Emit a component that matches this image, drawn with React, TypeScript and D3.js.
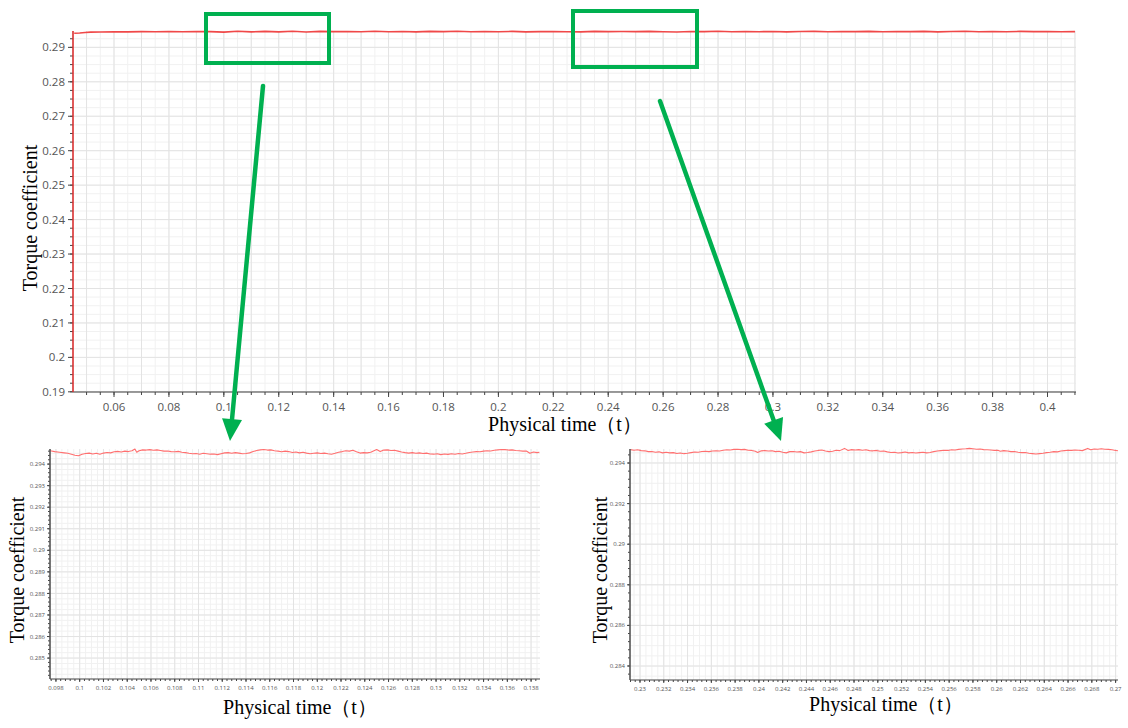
import React from "react";
import * as d3 from "d3";

type Pt = [number, number];

// ---------- DATA ----------
const mainSeries: Pt[] = [
  [0.0455, 0.29408], [0.0475, 0.29418], [0.0495, 0.29432], [0.0515, 0.29441], [0.055, 0.29446],
  [0.06, 0.29452], [0.065, 0.29449], [0.07, 0.29456], [0.075, 0.29453], [0.08, 0.29459],
  [0.085, 0.29455], [0.09, 0.29462], [0.095, 0.29457], [0.1, 0.29443], [0.105, 0.29466],
  [0.11, 0.29449], [0.115, 0.29464], [0.12, 0.29451], [0.125, 0.29467], [0.13, 0.29447],
  [0.135, 0.29464], [0.14, 0.29456], [0.145, 0.29461], [0.15, 0.29452], [0.155, 0.29468],
  [0.16, 0.29455], [0.165, 0.2946], [0.17, 0.2945], [0.175, 0.29463], [0.18, 0.29457],
  [0.185, 0.29466], [0.19, 0.29452], [0.195, 0.29459], [0.2, 0.29454], [0.205, 0.29463],
  [0.21, 0.29449], [0.215, 0.29458], [0.22, 0.29461], [0.225, 0.29455], [0.23, 0.29449],
  [0.235, 0.29464], [0.24, 0.29456], [0.245, 0.2946], [0.25, 0.29458], [0.255, 0.29465],
  [0.26, 0.29455], [0.265, 0.29447], [0.27, 0.29462], [0.275, 0.29458], [0.28, 0.29466],
  [0.285, 0.29453], [0.29, 0.2946], [0.295, 0.29455], [0.3, 0.29462], [0.305, 0.29451],
  [0.31, 0.29459], [0.315, 0.29464], [0.32, 0.29454], [0.325, 0.29461], [0.33, 0.29457],
  [0.335, 0.29465], [0.34, 0.29452], [0.345, 0.2946], [0.35, 0.29456], [0.355, 0.29463],
  [0.36, 0.2945], [0.365, 0.29462], [0.37, 0.29467], [0.375, 0.29455], [0.38, 0.29459],
  [0.385, 0.29453], [0.39, 0.29464], [0.395, 0.29457], [0.4, 0.29461], [0.405, 0.29454],
  [0.41, 0.29458],
];

const leftZoomSeries: Pt[] = [
  [0.0975, 0.29462], [0.0979, 0.29458], [0.0983, 0.29455], [0.0987, 0.29452], [0.099, 0.2945],
  [0.0993, 0.29446], [0.0996, 0.29441], [0.0999, 0.29439], [0.1002, 0.29446], [0.1005, 0.29449],
  [0.1008, 0.29451], [0.1011, 0.29447], [0.1014, 0.2945], [0.1017, 0.29446], [0.102, 0.29451],
  [0.1023, 0.29454], [0.1026, 0.29452], [0.1029, 0.29457], [0.1032, 0.29459], [0.1035, 0.29456],
  [0.1038, 0.2946], [0.1041, 0.29458], [0.1044, 0.29462], [0.10465, 0.2947], [0.1048, 0.29455],
  [0.105, 0.29462], [0.1053, 0.29466], [0.1056, 0.29465], [0.1059, 0.29467], [0.1062, 0.29464],
  [0.1065, 0.29466], [0.1068, 0.29463], [0.1071, 0.2946], [0.1074, 0.29461], [0.1077, 0.29458],
  [0.108, 0.29457], [0.1083, 0.29459], [0.1086, 0.29455], [0.1089, 0.29453], [0.1092, 0.2945],
  [0.1095, 0.29448], [0.1098, 0.29449], [0.1101, 0.29446], [0.1104, 0.2945], [0.1107, 0.29448],
  [0.111, 0.29446], [0.1113, 0.29447], [0.1116, 0.29444], [0.1119, 0.29448], [0.1122, 0.29452],
  [0.1125, 0.29453], [0.1128, 0.2945], [0.1131, 0.29453], [0.1134, 0.29451], [0.1137, 0.29448],
  [0.114, 0.29449], [0.1143, 0.29452], [0.1146, 0.29458], [0.1149, 0.29463], [0.1152, 0.29466],
  [0.1155, 0.29468], [0.1158, 0.29465], [0.1161, 0.29466], [0.1164, 0.29462], [0.1167, 0.2946],
  [0.117, 0.29457], [0.1173, 0.2946], [0.1176, 0.29458], [0.1179, 0.29454], [0.1182, 0.29456],
  [0.1185, 0.29452], [0.1188, 0.29455], [0.1191, 0.29451], [0.1194, 0.29448], [0.1197, 0.2945],
  [0.12, 0.29452], [0.1203, 0.29449], [0.1206, 0.29451], [0.1209, 0.29448], [0.1212, 0.29446],
  [0.1215, 0.2945], [0.1218, 0.29455], [0.1221, 0.29458], [0.1224, 0.29462], [0.1227, 0.2946],
  [0.123, 0.29464], [0.1233, 0.29457], [0.1236, 0.29451], [0.1239, 0.29453], [0.1242, 0.29452],
  [0.1245, 0.29455], [0.125, 0.29468], [0.1253, 0.29458], [0.1256, 0.29465], [0.1259, 0.29466],
  [0.1262, 0.29463], [0.1265, 0.29464], [0.1268, 0.2946], [0.1271, 0.29456], [0.1274, 0.29453],
  [0.1277, 0.29451], [0.128, 0.29453], [0.1283, 0.2945], [0.1286, 0.29452], [0.1289, 0.29449],
  [0.1292, 0.29451], [0.1295, 0.29447], [0.1298, 0.29446], [0.1301, 0.29448], [0.1304, 0.29444],
  [0.1307, 0.29447], [0.131, 0.29445], [0.1313, 0.29448], [0.1316, 0.29446], [0.1319, 0.29449],
  [0.1322, 0.29447], [0.1325, 0.2945], [0.1328, 0.29454], [0.1331, 0.29456], [0.1334, 0.29458],
  [0.1337, 0.29457], [0.134, 0.2946], [0.1343, 0.29462], [0.1346, 0.29461], [0.1349, 0.29464],
  [0.1352, 0.29466], [0.1355, 0.29468], [0.1358, 0.29467], [0.1361, 0.29465], [0.1364, 0.29466],
  [0.1367, 0.29463], [0.137, 0.29462], [0.1373, 0.2946], [0.1376, 0.29461], [0.1379, 0.2945],
  [0.1382, 0.29456], [0.1385, 0.29453], [0.1387, 0.29455],
];

const rightZoomSeries: Pt[] = [
  [0.2292, 0.29466], [0.2295, 0.29463], [0.2298, 0.29465], [0.2301, 0.29461], [0.2304, 0.2946],
  [0.2307, 0.29456], [0.231, 0.29457], [0.2313, 0.29453], [0.2316, 0.29455], [0.2319, 0.2945],
  [0.2322, 0.29453], [0.2325, 0.2945], [0.2328, 0.29451], [0.2331, 0.29447], [0.2334, 0.29449],
  [0.2337, 0.29446], [0.234, 0.29448], [0.2343, 0.29451], [0.2346, 0.29454], [0.2349, 0.29453],
  [0.2352, 0.29457], [0.2355, 0.29458], [0.2358, 0.29456], [0.2361, 0.29459], [0.2364, 0.2946],
  [0.2367, 0.29459], [0.237, 0.29463], [0.2373, 0.29465], [0.2376, 0.29464], [0.2379, 0.29467],
  [0.2382, 0.29468], [0.2385, 0.29466], [0.2388, 0.29467], [0.2391, 0.29463], [0.2394, 0.29462],
  [0.2397, 0.29458], [0.2399, 0.29452], [0.2402, 0.2946], [0.2405, 0.29461], [0.2408, 0.29459],
  [0.2411, 0.2946], [0.2414, 0.29456], [0.2417, 0.29458], [0.242, 0.29453], [0.2423, 0.2945],
  [0.2426, 0.29456], [0.2429, 0.29457], [0.2432, 0.29454], [0.2435, 0.29456], [0.2438, 0.2945],
  [0.2441, 0.29452], [0.2444, 0.29455], [0.2447, 0.29459], [0.245, 0.29462], [0.2453, 0.29464],
  [0.2456, 0.29459], [0.2459, 0.29456], [0.2462, 0.29458], [0.2465, 0.29463], [0.2468, 0.29461],
  [0.2472, 0.29472], [0.2475, 0.29462], [0.2478, 0.29466], [0.2481, 0.29464], [0.2484, 0.29466],
  [0.2487, 0.29463], [0.249, 0.29465], [0.2493, 0.29461], [0.2496, 0.2946], [0.2499, 0.29462],
  [0.2502, 0.29458], [0.2505, 0.29459], [0.2508, 0.29455], [0.2511, 0.29452], [0.2514, 0.29453],
  [0.2517, 0.29449], [0.252, 0.29451], [0.2523, 0.29454], [0.2526, 0.2945], [0.2529, 0.29452],
  [0.2532, 0.29449], [0.2535, 0.29451], [0.2538, 0.29453], [0.2541, 0.2945], [0.2544, 0.29452],
  [0.2547, 0.29456], [0.255, 0.29459], [0.2553, 0.29461], [0.2556, 0.29463], [0.2559, 0.29462],
  [0.2562, 0.29465], [0.2565, 0.29464], [0.2568, 0.29467], [0.2571, 0.29469], [0.2574, 0.2947],
  [0.2577, 0.29472], [0.258, 0.2947], [0.2583, 0.29468], [0.2586, 0.29469], [0.2589, 0.29466],
  [0.2592, 0.29465], [0.2595, 0.29464], [0.2598, 0.29462], [0.2601, 0.29463], [0.2603, 0.29458],
  [0.2606, 0.29461], [0.2609, 0.29459], [0.2612, 0.29456], [0.2615, 0.29457], [0.2618, 0.29453],
  [0.2621, 0.29451], [0.2624, 0.29452], [0.2627, 0.29448], [0.263, 0.29446], [0.2633, 0.29444],
  [0.2636, 0.29446], [0.2639, 0.29448], [0.2642, 0.29451], [0.2645, 0.29453], [0.2648, 0.29456],
  [0.2651, 0.29455], [0.2654, 0.29459], [0.2657, 0.29461], [0.266, 0.29463], [0.2663, 0.29462],
  [0.2666, 0.29464], [0.2669, 0.29463], [0.2672, 0.29461], [0.26765, 0.29472], [0.2679, 0.29465],
  [0.2682, 0.29469], [0.2685, 0.29468], [0.2688, 0.2947], [0.2691, 0.29468], [0.2694, 0.29467],
  [0.2697, 0.29465], [0.27, 0.29462], [0.2702, 0.2946],
];

const mainXTicks = [0.06, 0.08, 0.1, 0.12, 0.14, 0.16, 0.18, 0.2, 0.22, 0.24, 0.26, 0.28, 0.3, 0.32, 0.34, 0.36, 0.38, 0.4];
const mainYTicks = [0.19, 0.2, 0.21, 0.22, 0.23, 0.24, 0.25, 0.26, 0.27, 0.28, 0.29];
const leftXTicks = [0.098, 0.1, 0.102, 0.104, 0.106, 0.108, 0.11, 0.112, 0.114, 0.116, 0.118, 0.12, 0.122, 0.124, 0.126, 0.128, 0.13, 0.132, 0.134, 0.136, 0.138];
const leftYTicks = [0.285, 0.286, 0.287, 0.288, 0.289, 0.29, 0.291, 0.292, 0.293, 0.294];
const rightXTicks = [0.23, 0.232, 0.234, 0.236, 0.238, 0.24, 0.242, 0.244, 0.246, 0.248, 0.25, 0.252, 0.254, 0.256, 0.258, 0.26, 0.262, 0.264, 0.266, 0.268, 0.27];
const rightYTicks = [0.284, 0.286, 0.288, 0.29, 0.292, 0.294];

const yTitle = "Torque coefficient";
const xTitle = "Physical time（t）";

// ---------- helpers ----------
function steps(d0: number, d1: number, step: number): number[] {
  const a = Math.ceil(d0 / step - 1e-7);
  const b = Math.floor(d1 / step + 1e-7);
  return d3.range(a, b + 1).map((i) => +(i * step).toFixed(7));
}
const fmt = (v: number) => String(+v.toFixed(4));

interface PanelCfg {
  id: string;
  left: number; right: number; top: number; bottom: number;
  xDomain: [number, number]; yDomain: [number, number];
  xTicks: number[]; yTicks: number[];
  xMinorTick: number; yMinorTick: number;
  xGridMinor: number; yGridMinor: number;
  xGridMajor: number; yGridMajor: number;
  series: Pt[];
  lineColor: string; lineWidth: number;
  tickFont: number; tickMajor: number; tickMinor: number;
  yAxisColor: string;
  labelGapY: number; labelGapX: number;
  yTitlePos: [number, number]; xTitlePos: [number, number];
  titleSize: number;
}

function Panel({ c }: { c: PanelCfg }) {
  const x = d3.scaleLinear().domain(c.xDomain).range([c.left, c.right]);
  const y = d3.scaleLinear().domain(c.yDomain).range([c.bottom, c.top]);
  const line = d3.line<Pt>().x((d) => x(d[0])).y((d) => y(d[1]));
  const xgMinor = steps(c.xDomain[0], c.xDomain[1], c.xGridMinor);
  const ygMinor = steps(c.yDomain[0], c.yDomain[1], c.yGridMinor);
  const xgMajor = steps(c.xDomain[0], c.xDomain[1], c.xGridMajor);
  const ygMajor = steps(c.yDomain[0], c.yDomain[1], c.yGridMajor);
  const xMinor = steps(c.xDomain[0], c.xDomain[1], c.xMinorTick);
  const yMinor = steps(c.yDomain[0], c.yDomain[1], c.yMinorTick);
  const tickColor = "#555";
  return (
    <g>
      <defs>
        <clipPath id={c.id + "clip"}>
          <rect x={c.left} y={c.top - 6} width={c.right - c.left} height={c.bottom - c.top + 6} />
        </clipPath>
      </defs>
      {xgMinor.map((v, i) => (
        <line key={"xgm" + i} x1={x(v)} x2={x(v)} y1={c.top} y2={c.bottom} stroke="#f1f1f1" strokeWidth={1} />
      ))}
      {ygMinor.map((v, i) => (
        <line key={"ygm" + i} x1={c.left} x2={c.right} y1={y(v)} y2={y(v)} stroke="#f1f1f1" strokeWidth={1} />
      ))}
      {xgMajor.map((v, i) => (
        <line key={"xgM" + i} x1={x(v)} x2={x(v)} y1={c.top} y2={c.bottom} stroke="#e3e3e3" strokeWidth={1} />
      ))}
      {ygMajor.map((v, i) => (
        <line key={"ygM" + i} x1={c.left} x2={c.right} y1={y(v)} y2={y(v)} stroke="#e3e3e3" strokeWidth={1} />
      ))}
      <path d={line(c.series) || ""} fill="none" stroke={c.lineColor} strokeWidth={c.lineWidth}
        strokeLinejoin="round" clipPath={`url(#${c.id}clip)`} />
      {/* bottom axis */}
      <line x1={c.left} x2={c.right} y1={c.bottom} y2={c.bottom} stroke="#444" strokeWidth={1.2} />
      {xMinor.map((v, i) => (
        <line key={"xm" + i} x1={x(v)} x2={x(v)} y1={c.bottom} y2={c.bottom + c.tickMinor} stroke="#444" strokeWidth={1} />
      ))}
      {c.xTicks.map((v, i) => (
        <g key={"xt" + i}>
          <line x1={x(v)} x2={x(v)} y1={c.bottom} y2={c.bottom + c.tickMajor} stroke="#444" strokeWidth={1} />
          <text x={x(v)} y={c.bottom + c.labelGapX} textAnchor="middle" fontSize={c.tickFont}
            fontFamily="'Open Sans', 'Noto Sans', sans-serif" fill={tickColor}>{fmt(v)}</text>
        </g>
      ))}
      {/* left axis */}
      {yMinor.map((v, i) => (
        <line key={"ym" + i} x1={c.left - c.tickMinor} x2={c.left} y1={y(v)} y2={y(v)} stroke="#444" strokeWidth={1} />
      ))}
      {c.yTicks.map((v, i) => (
        <g key={"yt" + i}>
          <line x1={c.left - c.tickMajor} x2={c.left} y1={y(v)} y2={y(v)} stroke="#444" strokeWidth={1} />
          <text x={c.left - c.labelGapY} y={y(v)} dy="0.35em" textAnchor="end" fontSize={c.tickFont}
            fontFamily="'Open Sans', 'Noto Sans', sans-serif" fill={tickColor}>{fmt(v)}</text>
        </g>
      ))}
      <line x1={c.left} x2={c.left} y1={c.top} y2={c.bottom} stroke={c.yAxisColor} strokeWidth={1.6} />
      {/* titles */}
      <text transform={`translate(${c.yTitlePos[0]},${c.yTitlePos[1]}) rotate(-90)`} dy="0.35em"
        textAnchor="middle" fontSize={c.titleSize} fontFamily="'Liberation Serif', 'Times New Roman', serif" fill="#000">
        {yTitle}
      </text>
      <text x={c.xTitlePos[0]} y={c.xTitlePos[1]} textAnchor="middle" fontSize={c.titleSize}
        fontFamily="'Liberation Serif', 'Times New Roman', serif" fill="#000">
        {xTitle}
      </text>
    </g>
  );
}

const mainCfg: PanelCfg = {
  id: "main",
  left: 73, right: 1076, top: 31, bottom: 392,
  xDomain: [0.04506, 0.41038], yDomain: [0.18995, 0.29475],
  xTicks: mainXTicks, yTicks: mainYTicks,
  xMinorTick: 0.005, yMinorTick: 0.0025,
  xGridMinor: 0.005, yGridMinor: 0.0025,
  xGridMajor: 0.01, yGridMajor: 0.01,
  series: mainSeries, lineColor: "#f04848", lineWidth: 1.6,
  tickFont: 11.5, tickMajor: 5, tickMinor: 3,
  yAxisColor: "#d83030",
  labelGapY: 8, labelGapX: 19,
  yTitlePos: [30, 218], xTitlePos: [565, 431], titleSize: 20,
};

const leftCfg: PanelCfg = {
  id: "zl",
  left: 50, right: 540, top: 449, bottom: 679,
  xDomain: [0.0975, 0.13875], yDomain: [0.28403, 0.2947],
  xTicks: leftXTicks, yTicks: leftYTicks,
  xMinorTick: 0.0004, yMinorTick: 0.0002,
  xGridMinor: 0.0005, yGridMinor: 0.00025,
  xGridMajor: 0.002, yGridMajor: 0.001,
  series: leftZoomSeries, lineColor: "#ff6f6f", lineWidth: 1.1,
  tickFont: 6, tickMajor: 3, tickMinor: 2,
  yAxisColor: "#555",
  labelGapY: 5, labelGapX: 11,
  yTitlePos: [17, 570], xTitlePos: [300, 714], titleSize: 20,
};

const rightCfg: PanelCfg = {
  id: "zr",
  left: 630, right: 1118, top: 449, bottom: 680,
  xDomain: [0.22916, 0.2702], yDomain: [0.28331, 0.29469],
  xTicks: rightXTicks, yTicks: rightYTicks,
  xMinorTick: 0.0004, yMinorTick: 0.0004,
  xGridMinor: 0.0005, yGridMinor: 0.0005,
  xGridMajor: 0.002, yGridMajor: 0.002,
  series: rightZoomSeries, lineColor: "#ff6f6f", lineWidth: 1.1,
  tickFont: 6, tickMajor: 3, tickMinor: 2,
  yAxisColor: "#555",
  labelGapY: 5, labelGapX: 11,
  yTitlePos: [600, 570], xTitlePos: [886, 711], titleSize: 20,
};

const GREEN = "#00b050";

function Arrow({ x1, y1, x2, y2 }: { x1: number; y1: number; x2: number; y2: number }) {
  const ang = Math.atan2(y2 - y1, x2 - x1);
  const L = 22, W = 10;
  const bx = x2 - L * Math.cos(ang), by = y2 - L * Math.sin(ang);
  const px = -Math.sin(ang) * W, py = Math.cos(ang) * W;
  const pts = [[x2, y2], [bx + px, by + py], [bx - px, by - py]].map((p) => p.join(",")).join(" ");
  return (
    <g>
      <line x1={x1} y1={y1} x2={bx} y2={by} stroke={GREEN} strokeWidth={4.5} strokeLinecap="round" />
      <polygon points={pts} fill={GREEN} />
    </g>
  );
}

export default function App() {
  return (
    <svg width={1128} height={728} style={{ position: "absolute", left: 0, top: 0, background: "#fff" }}>
      <rect x={0} y={0} width={1128} height={728} fill="#fff" />
      <Panel c={mainCfg} />
      <Panel c={leftCfg} />
      <Panel c={rightCfg} />
      <rect x={206} y={14} width={123} height={49} fill="none" stroke={GREEN} strokeWidth={4} />
      <rect x={573} y={11} width={124} height={56} fill="none" stroke={GREEN} strokeWidth={4} />
      <Arrow x1={263} y1={86} x2={230} y2={441} />
      <Arrow x1={660} y1={101} x2={781} y2={441} />
    </svg>
  );
}
